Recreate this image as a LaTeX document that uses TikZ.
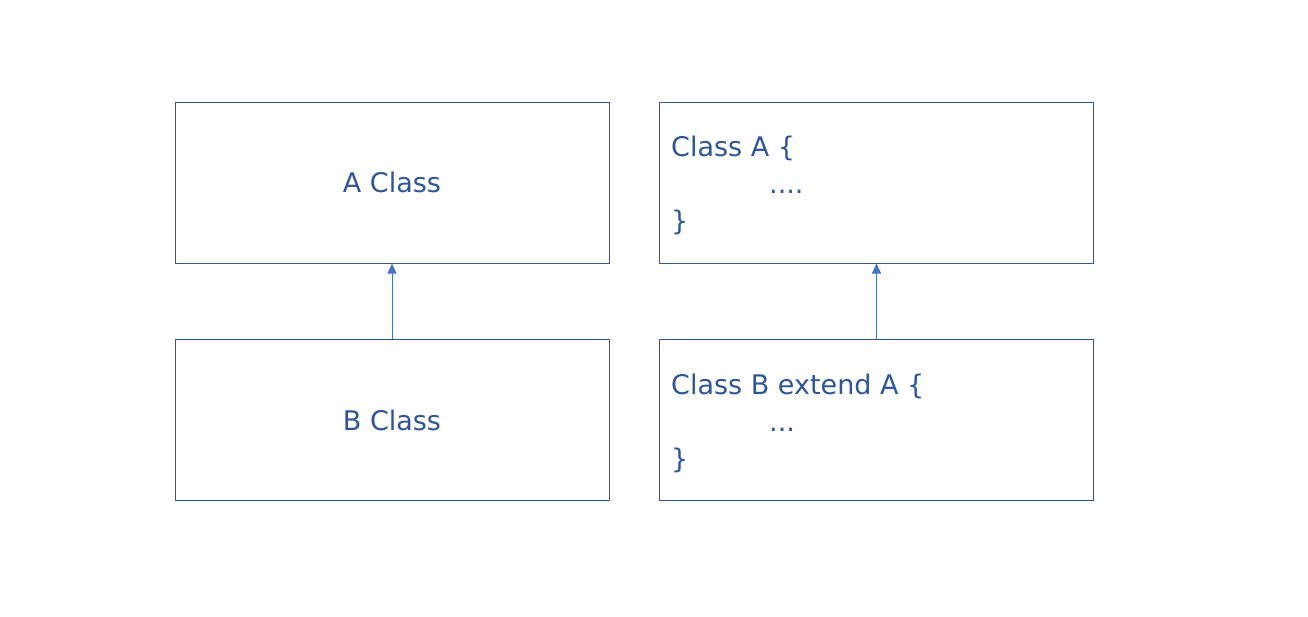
\documentclass[tikz,border=0pt]{standalone}
\usepackage{fontspec}
\setmainfont{DejaVu Sans}
\usetikzlibrary{arrows.meta,positioning}
\definecolor{boxblue}{HTML}{2F5597}
\definecolor{arrowblue}{HTML}{4472C4}

\begin{document}
\begin{tikzpicture}[x=1pt,y=-1pt,
    classbox/.style={draw=boxblue,line width=1pt,minimum width=434pt,minimum height=161pt,
      text=boxblue,font=\fontsize{27}{37}\selectfont,inner sep=0pt},
    codetext/.style={text=boxblue,font=\fontsize{27}{37}\selectfont,align=left,inner sep=0pt,anchor=west},
    inherit/.style={draw=arrowblue,line width=1pt,-{Triangle[length=10pt,width=9pt]}}]
  \useasboundingbox (0,0) rectangle (1308,616);
  % left column: plain boxes
  \node[classbox] (aclass) at (392,182.5) {A Class};
  \node[classbox] (bclass) at (392,420) {B Class};
  % right column: code boxes
  \node[classbox] (acode) at (876.5,182.5) {};
  \node[classbox] (bcode) at (876.5,420) {};
  \node[codetext] (acodetext) at ([xshift=12pt,yshift=-3pt]acode.west)
    {Class A \{\\\hspace{98pt}....\\\}};
  \node[codetext] (bcodetext) at ([xshift=12pt,yshift=-3pt]bcode.west)
    {Class B extend A \{\\\hspace{98pt}...\\\}};
  % inheritance arrows
  \draw[inherit] (bclass) -- (aclass);
  \draw[inherit] (bcode) -- (acode);
\end{tikzpicture}
\end{document}
